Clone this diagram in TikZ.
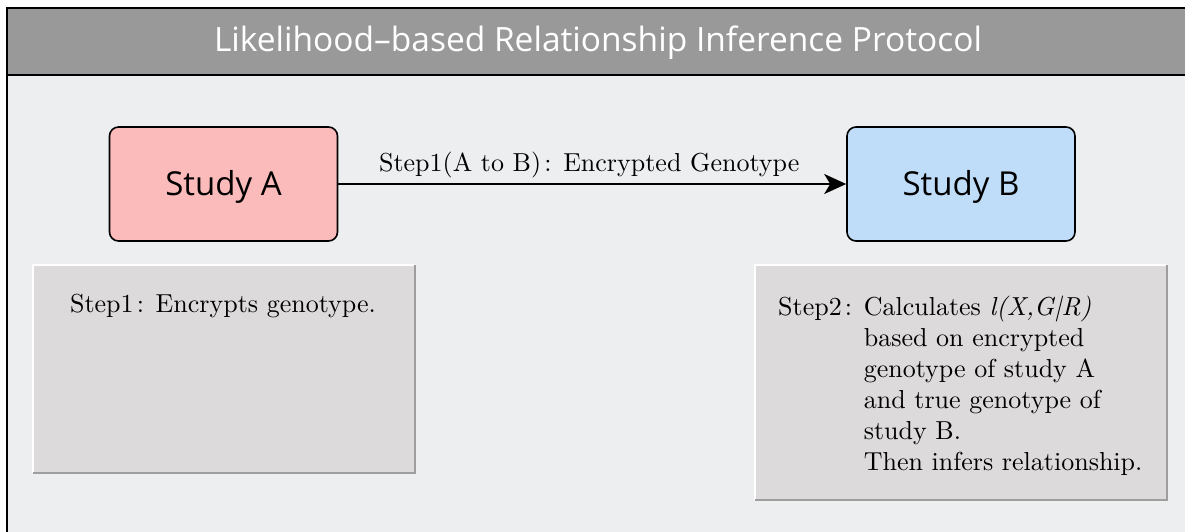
\documentclass[tikz,border=0pt]{standalone}
\usepackage{fontspec}
\setmainfont{lmroman10-regular.otf}[ItalicFont=lmroman10-italic.otf, BoldFont=lmroman10-bold.otf]
\setsansfont{Open Sans}
\usetikzlibrary{arrows.meta}
\definecolor{titlebg}{HTML}{999999}
\definecolor{bodybg}{HTML}{EDEEF0}
\definecolor{pinkA}{HTML}{FBBBBB}
\definecolor{blueB}{HTML}{BFDDF9}
\definecolor{grayfill}{HTML}{DCDADB}
\definecolor{shade}{HTML}{9E9E9E}
\newcommand{\fcolon}{\hspace*{0.12em}:\hspace*{0.45em}}
\tikzset{
  studybox/.style={draw=black, line width=1.6pt, rounded corners=9pt, minimum width=228pt, minimum height=114pt, font=\sffamily\fontsize{33}{40}\selectfont, inner sep=0pt, text height=23.5pt, text depth=0pt},
  graybox/.style={fill=grayfill, inner sep=0pt},
  hilite/.style={draw=white, line width=2pt},
  shadow/.style={draw=shade, line width=2pt},
  serif/.style={font=\rmfamily\fontsize{26}{31}\selectfont},
  conn/.style={line width=2pt, -{Stealth[length=22pt,width=20pt,inset=6pt]}},
  frame/.style={line width=2pt, draw=black}
}
\begin{document}
\begin{tikzpicture}[x=1pt,y=-1pt]
\useasboundingbox (0,0) rectangle (1185,531);
\fill[white] (0,0) rectangle (1185,531);
\fill[bodybg] (7,8) rectangle (1195,540);
\fill[titlebg] (7,8) rectangle (1195,75);
\draw[frame] (1195,8) -- (7,8) -- (7,540);
\draw[frame] (7,75) -- (1195,75);
\node[text=white, font=\sffamily\fontsize{33.5}{40}\selectfont] (title) at (598,43) {Likelihood–based Relationship Inference Protocol};
% study boxes
\node[studybox, fill=pinkA] (A) at (223.5,184) {Study A};
\node[studybox, fill=blueB] (B) at (961,184) {Study B};
\draw[conn] (A) -- node[above, serif, inner sep=5pt, xshift=-3pt] (lbl) {Step1(A to B)\fcolon Encrypted Genotype} (B);
% step boxes
\node[graybox, minimum width=382pt, minimum height=208pt] (s1) at (224,369) {};
\draw[hilite] (s1.south west) -- (s1.north west) -- (s1.north east);
\draw[shadow] (s1.north east) -- (s1.south east) -- (s1.south west);
\node[graybox, minimum width=412pt, minimum height=235pt] (s2) at (961,382.5) {};
\draw[hilite] (s2.south west) -- (s2.north west) -- (s2.north east);
\draw[shadow] (s2.north east) -- (s2.south east) -- (s2.south west);
\node[serif] (t1) at (223,306) {Step1\fcolon Encrypts genotype.};
\node[serif, anchor=north west, inner sep=0pt, align=left] (t2) at (778,293.5) {\begin{tabular}{@{}l@{}l@{}}
Step2\fcolon & Calculates \textit{l(X,G|R)}\\
& based on encrypted\\
& genotype of study A\\
& and true genotype of\\
& study B.\\
& Then infers relationship.
\end{tabular}};
\end{tikzpicture}
\end{document}
